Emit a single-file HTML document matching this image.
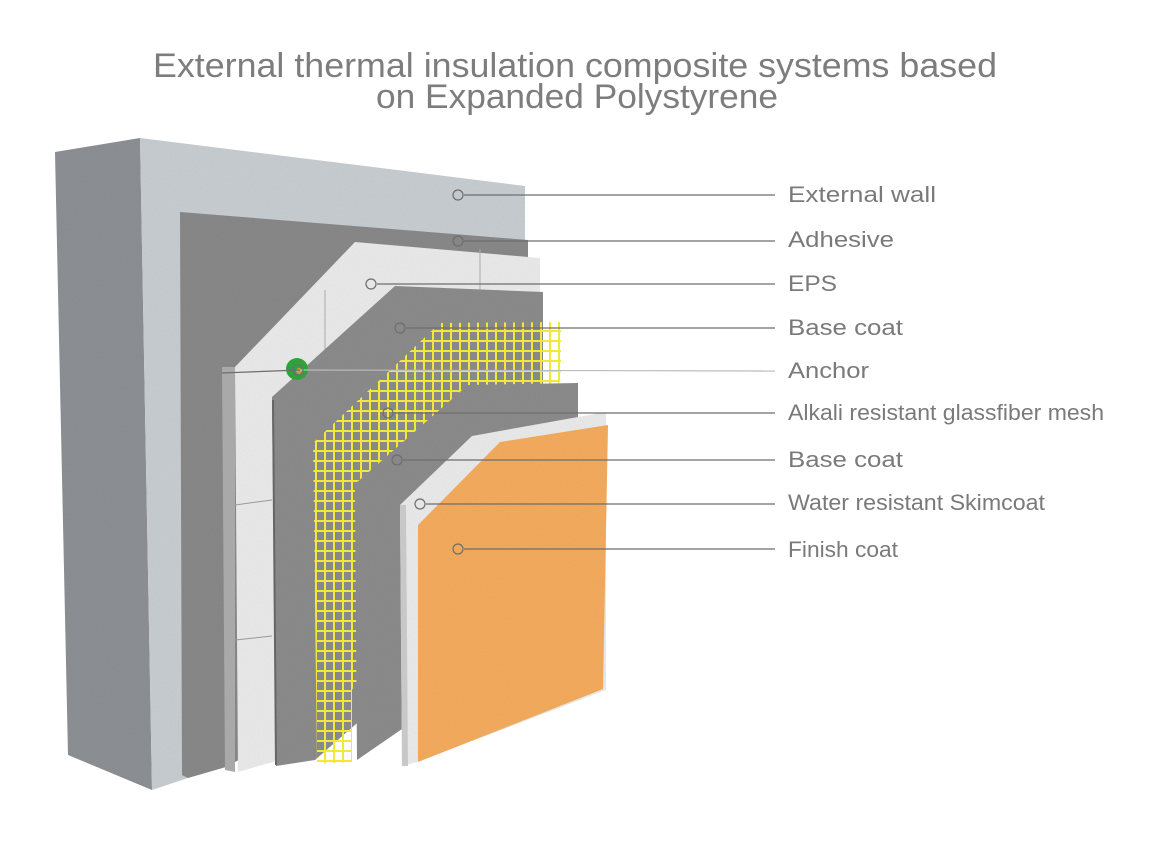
<!DOCTYPE html>
<html><head><meta charset="utf-8"><style>
html,body{margin:0;padding:0;background:#fff;}
svg{display:block;}
</style></head><body>
<svg width="1151" height="857" viewBox="0 0 1151 857" xmlns="http://www.w3.org/2000/svg">
<defs>
<filter id="n" x="0" y="0" width="100%" height="100%">
<feTurbulence type="fractalNoise" baseFrequency="0.9" numOctaves="2" result="t"/>
<feColorMatrix in="t" type="matrix" values="0 0 0 0 0  0 0 0 0 0  0 0 0 0 0  0 0 0 0.12 0" result="a"/>
<feComposite in="a" in2="SourceGraphic" operator="in" result="b"/>
<feMerge><feMergeNode in="SourceGraphic"/><feMergeNode in="b"/></feMerge>
</filter>
<pattern id="mesh" width="9" height="10" patternUnits="userSpaceOnUse">
<rect x="0" y="0" width="2" height="10" fill="#f2e83a"/>
<rect x="0" y="0" width="9" height="2" fill="#f2e83a"/>
</pattern>
</defs>

<text x="575" y="77" text-anchor="middle" font-family="Liberation Sans, sans-serif" font-size="34" fill="#7d7d7d" textLength="844" lengthAdjust="spacingAndGlyphs">External thermal insulation composite systems based</text>
<text x="577" y="108" text-anchor="middle" font-family="Liberation Sans, sans-serif" font-size="34" fill="#7d7d7d" textLength="402" lengthAdjust="spacingAndGlyphs">on Expanded Polystyrene</text>

<!-- wall -->
<polygon points="55,152 140,138 152,790 68,755" fill="#8e9295" filter="url(#n)"/>
<polygon points="140,138 525,186 525,400 188,778 152,790" fill="#c9cfd3" filter="url(#n)"/>
<!-- adhesive -->
<polygon points="180,212 528,240 528,600 226,767 188,778 182,775" fill="#8a8a8a" filter="url(#n)"/>
<!-- EPS -->
<polygon points="222,367 235,367 235,772 225,770" fill="#a9a9a9"/>
<polygon points="235,367 355,242 540,258 540,560 273,762 238,772" fill="#ececec" filter="url(#n)"/>
<line x1="480" y1="249" x2="480" y2="290" stroke="#aaa" stroke-width="1"/>
<line x1="325" y1="290" x2="325" y2="360" stroke="#aaa" stroke-width="1"/>
<line x1="235" y1="505" x2="272" y2="500" stroke="#999" stroke-width="1"/>
<line x1="235" y1="640" x2="272" y2="636" stroke="#999" stroke-width="1"/>
<!-- base coat 1 -->
<polygon points="272,397 395,286 543,292 543,560 315,760 276,766" fill="#8d8d8d" filter="url(#n)"/>
<line x1="273" y1="400" x2="276" y2="765" stroke="#666" stroke-width="2"/>
<!-- mesh -->
<polygon points="313,443 440,323 561,322 561,380 352,690 352,762 317,764" fill="url(#mesh)"/>
<!-- base coat 2 -->
<polygon points="355,484 468,385 578,383 578,600 415,720 357,760" fill="#8d8d8d" filter="url(#n)"/>
<!-- skimcoat -->
<polygon points="400,505 472,436 606,412 606,690 417,762 402,766" fill="#ececec" filter="url(#n)"/>
<polygon points="400,505 406,505 408,766 402,766" fill="#c8c8c8"/>
<!-- finish -->
<polygon points="418,525 500,442 608,425 603,689 418,762" fill="#f6ad5f" filter="url(#n)"/>

<!-- anchor -->
<circle cx="297" cy="369" r="11" fill="#2ea33a"/>
<circle cx="299" cy="371" r="3" fill="#c8a040"/>

<g stroke="#6e6e6e" stroke-width="1.2" fill="none">
<line x1="464" y1="195" x2="775" y2="195"/><circle cx="458" cy="195" r="5"/>
<line x1="464" y1="241" x2="775" y2="241"/><circle cx="458" cy="241" r="5"/>
<line x1="377" y1="284" x2="775" y2="284"/><circle cx="371" cy="284" r="5"/>
<line x1="406" y1="328" x2="775" y2="328"/><circle cx="400" cy="328" r="5"/>
<line x1="222" y1="373" x2="300" y2="370"/>
<line x1="300" y1="370" x2="775" y2="371" stroke="#bbb"/><circle cx="298" cy="370" r="5"/>
<line x1="394" y1="413" x2="775" y2="413"/><circle cx="388" cy="413" r="5"/>
<line x1="403" y1="460" x2="775" y2="460"/><circle cx="397" cy="460" r="5"/>
<line x1="426" y1="504" x2="775" y2="504"/><circle cx="420" cy="504" r="5"/>
<line x1="464" y1="549" x2="775" y2="549"/><circle cx="458" cy="549" r="5"/>
</g>

<g font-family="Liberation Sans, sans-serif" font-size="22" fill="#7a7a7a" lengthAdjust="spacingAndGlyphs">
<text x="788" y="202" textLength="148" lengthAdjust="spacingAndGlyphs">External wall</text>
<text x="788" y="247" textLength="106" lengthAdjust="spacingAndGlyphs">Adhesive</text>
<text x="788" y="291" textLength="49" lengthAdjust="spacingAndGlyphs">EPS</text>
<text x="788" y="335" textLength="115" lengthAdjust="spacingAndGlyphs">Base coat</text>
<text x="788" y="378" textLength="81" lengthAdjust="spacingAndGlyphs">Anchor</text>
<text x="788" y="420" textLength="316" lengthAdjust="spacingAndGlyphs">Alkali resistant glassfiber mesh</text>
<text x="788" y="467" textLength="115" lengthAdjust="spacingAndGlyphs">Base coat</text>
<text x="788" y="510" textLength="257" lengthAdjust="spacingAndGlyphs">Water resistant Skimcoat</text>
<text x="788" y="557" textLength="110" lengthAdjust="spacingAndGlyphs">Finish coat</text>
</g>
</svg>
</body></html>
